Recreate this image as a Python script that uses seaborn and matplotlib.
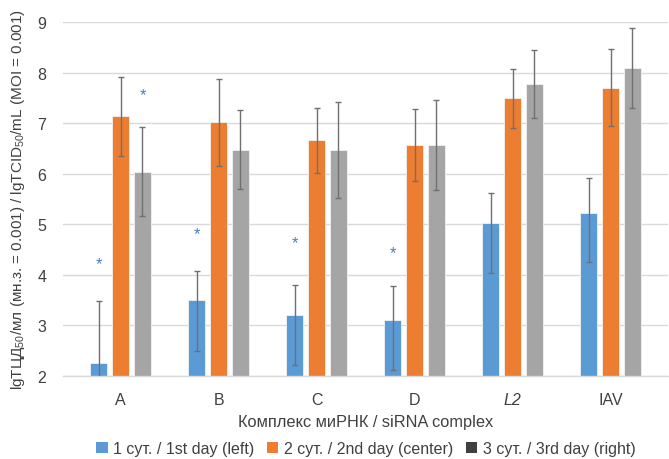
import numpy as np
import pandas as pd
import matplotlib
matplotlib.use("Agg")
import matplotlib.pyplot as plt
import seaborn as sns
from matplotlib.patches import Patch

# -----------------------------
# data
# -----------------------------
complexes = ["A", "B", "C", "D", "L2", "IAV"]
days = ["1 сут. / 1st day (left)", "2 сут. / 2nd day (center)", "3 сут. / 3rd day (right)"]

day1 = [2.25, 3.50, 3.20, 3.10, 5.02, 5.23]
day2 = [7.13, 7.03, 6.66, 6.56, 7.49, 7.70]
day3 = [6.03, 6.46, 6.47, 6.56, 7.77, 8.09]

# error bars (lower, upper)
day1_lo = [1.22, 1.02, 0.98, 0.98, 0.98, 0.98]
day1_hi = [1.22, 0.58, 0.60, 0.68, 0.59, 0.68]
day2_lo = [0.78, 0.88, 0.64, 0.70, 0.58, 0.76]
day2_hi = [0.79, 0.85, 0.64, 0.72, 0.58, 0.76]
day3_lo = [0.87, 0.77, 0.96, 0.88, 0.67, 0.80]
day3_hi = [0.89, 0.79, 0.95, 0.89, 0.67, 0.80]

# significance asterisks (height, nan = none)
star1 = [4.22, 4.82, 4.63, 4.43, np.nan, np.nan]
star3 = [7.57, np.nan, np.nan, np.nan, np.nan, np.nan]

colors = ["#5B9BD5", "#ED7D31", "#A5A5A5"]
legend_colors = ["#5B9BD5", "#ED7D31", "#404040"]

df = pd.DataFrame({
    "complex": complexes * 3,
    "day": [days[0]] * 6 + [days[1]] * 6 + [days[2]] * 6,
    "value": day1 + day2 + day3,
})

# -----------------------------
# plot
# -----------------------------
sns.set_style("white")
plt.rcParams["font.family"] = ["Liberation Sans", "DejaVu Sans"]
plt.rcParams["mathtext.fontset"] = "custom"
plt.rcParams["mathtext.rm"] = "Liberation Sans"
plt.rcParams["mathtext.it"] = "Liberation Sans:italic"

fig = plt.figure(figsize=(6.69, 4.6), dpi=100)
ax = fig.add_axes([0.094, 0.181, 0.905, 0.769])

sns.barplot(data=df, x="complex", y="value", hue="day", order=complexes,
            hue_order=days, palette=colors, saturation=1, width=0.67,
            gap=0.24, errorbar=None, edgecolor="#F2F2F2", linewidth=0.6,
            legend=False, ax=ax, zorder=2)

los = [day1_lo, day2_lo, day3_lo]
his = [day1_hi, day2_hi, day3_hi]
vals = [day1, day2, day3]
bar_conts = list(ax.containers)
centers = []
for k, cont in enumerate(bar_conts):
    xs = [p.get_x() + p.get_width() / 2 for p in cont.patches]
    centers.append(xs)
    ax.errorbar(xs, vals[k], yerr=[los[k], his[k]], fmt="none",
                ecolor="#707070", elinewidth=1.0, capsize=2.2, capthick=1.0,
                zorder=3)

for xs, stars in [(centers[0], star1), (centers[2], star3)]:
    for x, s in zip(xs, stars):
        if not np.isnan(s):
            ax.text(x, s, "*", color="#4A7EBB", fontsize=12,
                    ha="center", va="center")

ax.set_ylim(2, 9)
ax.set_yticks(range(2, 10))
ax.yaxis.grid(True, color="#D9D9D9", linewidth=1.0, zorder=0)
ax.set_axisbelow(True)
for s in ["top", "right", "left"]:
    ax.spines[s].set_visible(False)
ax.spines["bottom"].set_color("#D9D9D9")
ax.spines["bottom"].set_linewidth(1.0)
ax.tick_params(axis="both", length=0, labelsize=11.5, labelcolor="#404040")
ax.tick_params(axis="x", pad=12)
ax.tick_params(axis="y", pad=12)
ax.get_xticklabels()[4].set_style("italic")

ax.set_xlabel("Комплекс миРНК / siRNA complex", fontsize=11.8,
              color="#404040", labelpad=5)
ax.set_ylabel("lgТЦД$_{50}$/мл (мн.з. = 0.001) / lgTCID$_{50}$/mL (MOI = 0.001)",
              fontsize=11, color="#404040", labelpad=7)

handles = [Patch(facecolor=c, edgecolor="none") for c in legend_colors]
fig.legend(handles, days, loc="center", bbox_to_anchor=(0.547, 0.022),
           ncol=3, frameon=False, fontsize=11.5, handlelength=0.7,
           handleheight=0.7, handletextpad=0.35, columnspacing=0.8,
           labelcolor="#404040")

fig.savefig("out.png", dpi=100)
